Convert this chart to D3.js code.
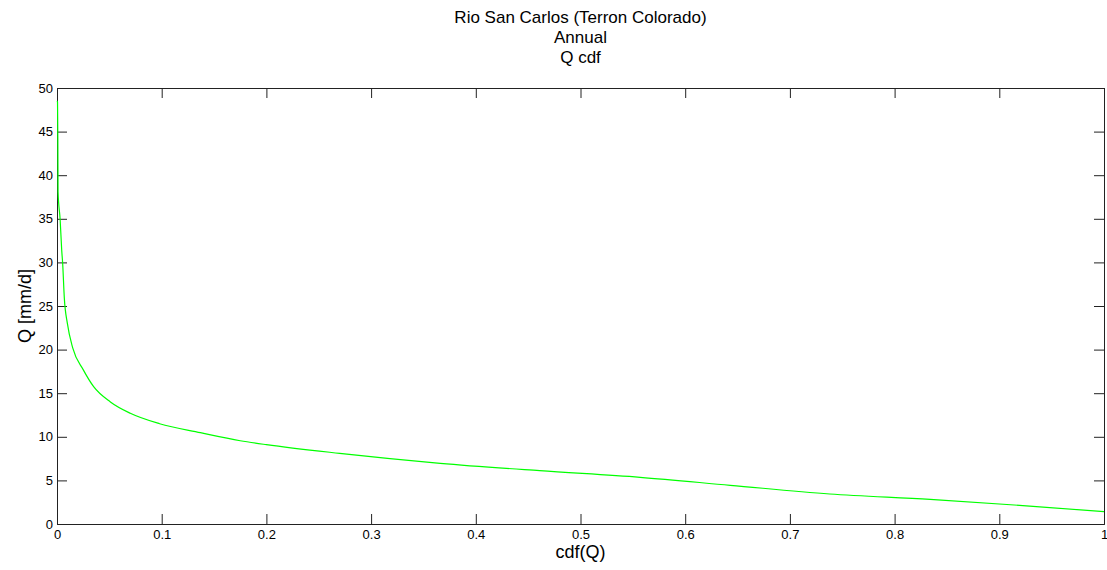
<!DOCTYPE html>
<html>
<head>
<meta charset="utf-8">
<script src="https://cdn.jsdelivr.net/npm/d3@7"></script>
<style>
  body { margin: 0; background: #fff; }
  text { font-family: "Liberation Sans", Arial, sans-serif; fill: #000; }
</style>
</head>
<body>
<div id="chart"></div>
<script>
// values
var titleLines = ["Rio San Carlos (Terron Colorado)", "Annual", "Q cdf"];
var xTicks = [0, 0.1, 0.2, 0.3, 0.4, 0.5, 0.6, 0.7, 0.8, 0.9, 1];
var yTicks = [0, 5, 10, 15, 20, 25, 30, 35, 40, 45, 50];
var cdf = [0, 0.0005, 0.0008, 0.001, 0.003, 0.0045, 0.0054, 0.007, 0.0099, 0.015, 0.025, 0.035,
           0.051, 0.070, 0.098, 0.137, 0.175, 0.2, 0.270, 0.366, 0.461, 0.557, 0.643, 0.738,
           0.834, 0.929, 1.0];
var q = [48.5, 48.4, 44, 38.1, 34.9, 31.4, 29.9, 25.9, 23.0, 20.2, 17.7, 15.75,
         14.0, 12.7, 11.5, 10.47, 9.55, 9.1, 8.1, 6.96, 6.11, 5.35, 4.44, 3.44,
         2.83, 2.06, 1.41];

var W = 1107, H = 570;
var margin = {left: 57, right: 3, top: 88, bottom: 46};
var width = W - margin.left - margin.right;
var height = H - margin.top - margin.bottom;

var x = d3.scaleLinear().domain([0, 1]).range([0, width]);
var y = d3.scaleLinear().domain([0, 50]).range([height, 0]);

var svg = d3.select("#chart").append("svg")
    .attr("width", W)
    .attr("height", H);

var g = svg.append("g")
    .attr("transform", "translate(" + margin.left + "," + margin.top + ")");

// title
svg.selectAll(".title")
  .data(titleLines)
  .enter().append("text")
    .attr("x", margin.left + width / 2)
    .attr("y", function(d, i) { return 23 + i * 20; })
    .attr("text-anchor", "middle")
    .style("font-size", "17px")
    .text(function(d) { return d; });

// axes, ticks pointing inwards, mirrored on top and right
g.append("g")
  .attr("transform", "translate(0," + height + ")")
  .call(d3.axisBottom(x).tickValues(xTicks).tickSize(-10).tickPadding(6)
    .tickFormat(function(d) { return d; }));
g.append("g")
  .call(d3.axisTop(x).tickValues(xTicks).tickSize(-10).tickFormat(""));
g.append("g")
  .call(d3.axisLeft(y).tickValues(yTicks).tickSize(-10).tickPadding(4));
g.append("g")
  .attr("transform", "translate(" + width + ",0)")
  .call(d3.axisRight(y).tickValues(yTicks).tickSize(-10).tickFormat(""));

g.selectAll(".domain").attr("stroke", "#222");
g.selectAll(".tick line").attr("stroke", "#222");
g.selectAll(".tick text").style("font-size", "13px")
  .style("font-family", "'Liberation Sans', Arial, sans-serif");

// the curve
var line = d3.line()
  .x(function(d, i) { return x(cdf[i]); })
  .y(function(d) { return y(d); })
  .curve(d3.curveMonotoneX);

g.append("path")
  .datum(q)
  .attr("fill", "none")
  .attr("stroke", "#00ff00")
  .attr("stroke-width", 1.2)
  .attr("d", line);

// axis labels
svg.append("text")
  .attr("x", margin.left + width / 2)
  .attr("y", 558)
  .attr("text-anchor", "middle")
  .style("font-size", "18px")
  .text("cdf(Q)");

svg.append("text")
  .attr("transform", "translate(31," + (margin.top + height / 2) + ") rotate(-90)")
  .attr("text-anchor", "middle")
  .style("font-size", "18px")
  .text("Q [mm/d]");
</script>
</body>
</html>
